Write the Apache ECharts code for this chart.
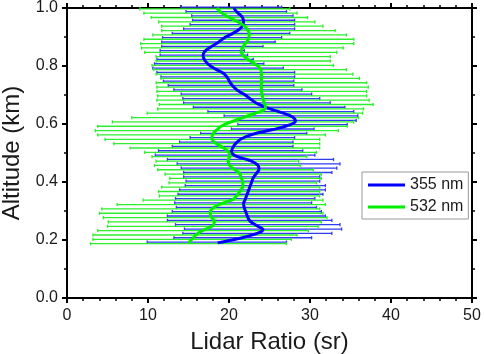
<!DOCTYPE html>
<html>
<head>
<meta charset="utf-8">
<script src="https://cdn.jsdelivr.net/npm/echarts@6/dist/echarts.min.js"></script>
<style>
  html, body { margin: 0; padding: 0; background: #fff; }
  #chart { width: 484px; height: 354px; }
</style>
</head>
<body>
<div id="chart"></div>
<script>
// altitude levels (km), top to bottom
const altitude = [
  1.0, 0.985, 0.97, 0.955, 0.94, 0.925, 0.91, 0.895, 0.88, 0.865,
  0.85, 0.835, 0.82, 0.805, 0.79, 0.775, 0.76, 0.745, 0.73, 0.715,
  0.70, 0.685, 0.67, 0.655, 0.64, 0.625, 0.61, 0.595, 0.58, 0.565,
  0.55, 0.535, 0.52, 0.505, 0.49, 0.475, 0.46, 0.445, 0.43, 0.415,
  0.40, 0.385, 0.37, 0.355, 0.34, 0.325, 0.31, 0.295, 0.28, 0.265,
  0.25, 0.235, 0.22, 0.205, 0.19
];

// 355 nm lidar ratio (sr)
const ratio355 = [
  20.6, 21.0, 21.6, 21.8, 21.7, 21.2, 20.3, 19.3, 18.6, 17.7,
  17.0, 16.8, 17.0, 17.5, 18.3, 19.3, 19.8, 20.1, 20.5, 21.1,
  22.0, 22.7, 23.5, 24.8, 26.4, 27.8, 28.2, 27.3, 25.3, 23.0,
  21.6, 20.9, 20.5, 20.3, 20.8, 22.5, 23.5, 23.7, 23.4, 23.0,
  22.8, 22.6, 22.4, 22.2, 22.0, 21.8, 21.9, 22.1, 22.3, 22.6,
  23.4, 24.2, 23.2, 21.2, 18.6
];
const low355 = [
  14.1, 14.7, 15.4, 15.5, 15.2, 14.4, 13.0, 11.8, 11.7, 11.7,
  11.5, 11.5, 11.1, 10.8, 10.6, 11.1, 11.6, 11.9, 12.5, 13.2,
  14.1, 14.3, 14.4, 15.6, 17.4, 19.4, 20.9, 21.1, 20.3, 16.5,
  15.2, 13.9, 13.0, 11.3, 10.9, 12.4, 13.6, 14.1, 14.4, 14.4,
  14.7, 14.6, 13.9, 13.7, 13.4, 13.3, 13.5, 13.0, 12.4, 12.4,
  13.4, 14.5, 14.3, 13.2, 9.9
];
const high355 = [
  26.5, 27.1, 27.9, 28.1, 28.1, 28.1, 27.5, 26.5, 25.7, 24.2,
  21.9, 22.3, 23.0, 24.3, 26.7, 28.1, 28.1, 28.0, 28.0, 29.0,
  30.2, 31.2, 32.5, 34.3, 35.4, 35.9, 35.7, 34.6, 30.5, 29.6,
  28.1, 27.9, 27.9, 29.1, 30.6, 32.9, 33.7, 33.3, 32.7, 31.2,
  31.2, 31.9, 31.9, 31.6, 30.6, 30.2, 30.8, 31.4, 31.9, 32.7,
  33.7, 33.9, 32.7, 30.2, 27.1
];

// 532 nm lidar ratio (sr)
const ratio532 = [
  18.5, 19.0, 19.9, 20.9, 21.8, 22.3, 22.5, 22.4, 22.1, 21.7,
  21.5, 21.8, 22.5, 23.3, 23.9, 24.0, 24.0, 24.0, 24.0, 24.0,
  24.1, 24.2, 24.4, 24.5, 23.5, 22.0, 20.5, 19.2, 18.5, 18.0,
  17.9, 18.3, 19.2, 19.9, 20.1, 19.9, 20.0, 20.6, 21.3, 21.5,
  21.7, 21.7, 21.4, 21.0, 20.5, 19.0, 18.0, 17.7, 17.8, 18.2,
  18.0, 16.9, 16.0, 15.5, 15.0
];
const low532 = [
  9.0, 9.5, 10.4, 11.3, 11.7, 11.7, 10.6, 9.5, 9.1, 9.2,
  9.6, 11.0, 11.0, 10.5, 10.7, 11.0, 11.6, 11.0, 11.1, 11.1,
  11.2, 11.1, 11.4, 11.2, 9.9, 8.0, 5.6, 3.8, 3.5, 3.8,
  4.7, 5.8, 7.8, 9.6, 10.5, 11.0, 10.8, 11.2, 12.1, 12.7,
  12.6, 11.7, 11.3, 11.4, 9.4, 6.2, 4.3, 4.0, 4.5, 5.1,
  5.0, 3.8, 3.2, 3.2, 2.9
];
const high532 = [
  27.5, 28.4, 29.7, 30.6, 31.6, 33.1, 34.5, 35.4, 35.4, 34.1,
  33.3, 32.5, 32.5, 32.9, 34.5, 35.3, 36.1, 37.0, 37.2, 37.0,
  37.0, 37.3, 37.8, 36.6, 36.5, 36.0, 35.4, 34.6, 33.5, 31.9,
  31.2, 31.2, 31.2, 30.8, 29.6, 28.6, 28.8, 30.4, 31.4, 31.4,
  30.8, 31.2, 31.2, 31.2, 31.6, 31.9, 31.2, 31.6, 32.1, 31.4,
  31.0, 29.8, 28.4, 27.7, 27.1
];

const xTicks = { min: 0, max: 50, interval: 10 };
const yTicks = { min: 0, max: 1, interval: 0.2 };

const BLUE = "#0000ff";
const GREEN = "#00ee00";
const FONT = "Liberation Sans";

function errorBars(lo, hi, color, dy) {
  return {
    type: "custom",
    silent: true,
    z: 2,
    data: altitude.map((a, i) => [lo[i], hi[i], a]),
    encode: { x: [0, 1], y: 2 },
    renderItem: (params, api) => {
      const p0 = api.coord([api.value(0), api.value(2)]);
      const p1 = api.coord([api.value(1), api.value(2)]);
      const y = p0[1] + dy;
      const style = { stroke: color, lineWidth: 1.3 };
      return {
        type: "group",
        children: [
          { type: "line", shape: { x1: p0[0], y1: y, x2: p1[0], y2: y }, style },
          { type: "line", shape: { x1: p0[0], y1: y - 1.6, x2: p0[0], y2: y + 1.6 }, style },
          { type: "line", shape: { x1: p1[0], y1: y - 1.6, x2: p1[0], y2: y + 1.6 }, style },
        ],
      };
    },
  };
}

function profile(name, vals, color) {
  return {
    name,
    type: "line",
    z: 5,
    smooth: 0.4,
    showSymbol: false,
    symbol: "none",
    lineStyle: { color, width: 3 },
    itemStyle: { color },
    data: altitude.map((a, i) => [vals[i], a]),
  };
}

const tickLabel = { color: "#1a1a1a", fontSize: 16, fontFamily: FONT };
const axisLineStyle = { onZero: false, lineStyle: { color: "#000", width: 2 } };
const majorTick = { length: 5, lineStyle: { color: "#000", width: 2 } };
const minorX = { show: true, splitNumber: 5, length: 3, lineStyle: { color: "#000", width: 1.5 } };
const minorY = { show: true, splitNumber: 2, length: 3, lineStyle: { color: "#000", width: 1.5 } };

const chart = echarts.init(document.getElementById("chart"));
chart.setOption({
  animation: false,
  backgroundColor: "#fff",
  grid: { left: 67, right: 12, top: 8, bottom: 56, outerBoundsMode: "none" },
  legend: {
    orient: "vertical",
    left: 362,
    top: 172,
    data: ["355 nm", "532 nm"],
    icon: "rect",
    itemWidth: 37,
    itemHeight: 3,
    itemGap: 6,
    padding: [5, 5, 4, 6],
    borderColor: "#999",
    borderWidth: 1,
    backgroundColor: "#fff",
    textStyle: { color: "#1a1a1a", fontSize: 16, fontFamily: FONT },
  },
  xAxis: [
    {
      type: "value",
      ...xTicks,
      name: "Lidar Ratio (sr)",
      nameLocation: "middle",
      nameGap: 32,
      nameTextStyle: { color: "#1a1a1a", fontSize: 24, fontFamily: FONT },
      axisLine: axisLineStyle,
      axisTick: majorTick,
      minorTick: minorX,
      axisLabel: { ...tickLabel, margin: 10 },
      splitLine: { show: false },
    },
    {
      type: "value",
      position: "top",
      ...xTicks,
      axisLine: axisLineStyle,
      axisTick: majorTick,
      minorTick: minorX,
      axisLabel: { show: false },
      splitLine: { show: false },
    },
  ],
  yAxis: [
    {
      type: "value",
      ...yTicks,
      name: "Altitude (km)",
      nameLocation: "middle",
      nameGap: 40,
      nameTextStyle: { color: "#1a1a1a", fontSize: 24, fontFamily: FONT },
      axisLine: axisLineStyle,
      axisTick: majorTick,
      minorTick: minorY,
      axisLabel: { ...tickLabel, margin: 9, formatter: (v) => v.toFixed(1) },
      splitLine: { show: false },
    },
    {
      type: "value",
      position: "right",
      ...yTicks,
      axisLine: axisLineStyle,
      axisTick: majorTick,
      minorTick: minorY,
      axisLabel: { show: false },
      splitLine: { show: false },
    },
  ],
  series: [
    errorBars(low355, high355, "#2f3cf0", -0.8),
    errorBars(low532, high532, "#2cf02c", 0.8),
    profile("355 nm", ratio355, BLUE),
    profile("532 nm", ratio532, GREEN),
  ],
});
</script>
</body>
</html>
